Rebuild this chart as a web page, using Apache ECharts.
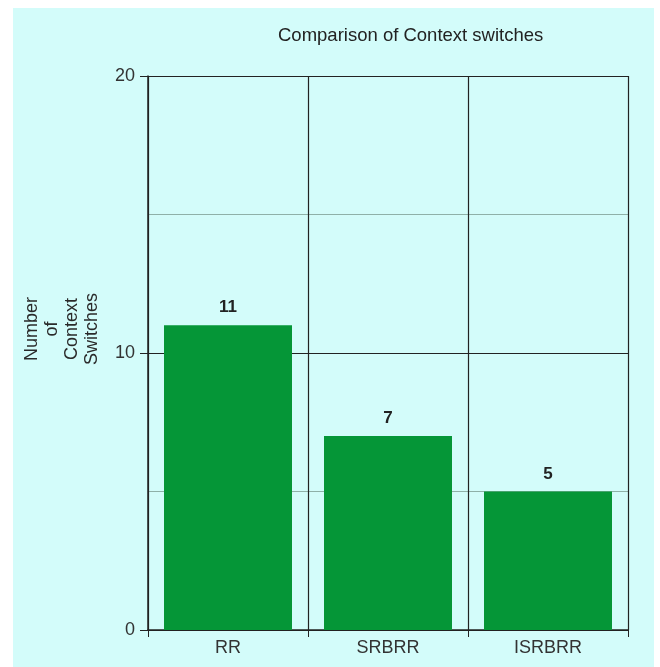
<!DOCTYPE html>
<html>
<head>
<meta charset="utf-8">
<script src="https://cdn.jsdelivr.net/npm/echarts@6/dist/echarts.min.js"></script>
<style>
  html, body { margin: 0; padding: 0; background: #ffffff; }
  #wrap { position: relative; width: 660px; height: 667px; background: #ffffff; }
  #chart { position: absolute; left: 13px; top: 8px; width: 641px; height: 659px; }
</style>
</head>
<body>
<div id="wrap"><div id="chart"></div></div>
<script>
// Scheduling algorithms compared and their context-switch counts
const categories = ['RR', 'SRBRR', 'ISRBRR'];
const contextSwitches = [11, 7, 5];
const yTickValues = [0, 10, 20];

const chart = echarts.init(document.getElementById('chart'), null, { renderer: 'canvas' });

const font = 'Arial, "Liberation Sans", Helvetica, sans-serif';

chart.setOption({
  backgroundColor: '#d3fcfa',
  animation: false,
  title: {
    text: 'Comparison of Context switches',
    left: 260,
    top: 13,
    textStyle: { fontFamily: font, fontSize: 18.5, fontWeight: 'normal', color: '#222' }
  },
  graphic: [{
    type: 'text',
    x: 49,
    y: 321,
    rotation: Math.PI / 2,
    style: {
      text: 'Number\nof\nContext\nSwitches',
      font: '18px ' + font,
      fill: '#2a2a2a',
      align: 'center',
      verticalAlign: 'middle',
      lineHeight: 20
    }
  }],
  grid: { left: 135, top: 68, width: 480, height: 554 },
  xAxis: {
    type: 'category',
    data: categories,
    axisLine: { lineStyle: { color: '#222', width: 1.5 } },
    axisTick: { show: true, length: 7, lineStyle: { color: '#222' } },
    axisLabel: { fontFamily: font, fontSize: 18, color: '#333', margin: 9 },
    splitLine: { show: true, lineStyle: { color: '#222', width: 1.2 } }
  },
  yAxis: {
    type: 'value',
    min: yTickValues[0],
    max: yTickValues[yTickValues.length - 1],
    interval: 10,
    axisLine: { show: true, lineStyle: { color: '#222', width: 1.5 } },
    axisTick: { show: true, length: 8, lineStyle: { color: '#222' } },
    axisLabel: { fontFamily: font, fontSize: 18, color: '#333', margin: 13 },
    splitLine: { show: true, lineStyle: { color: '#222', width: 1.2 } },
    minorTick: { show: false, splitNumber: 2 },
    minorSplitLine: { show: true, lineStyle: { color: '#8fb0a8', width: 1 } }
  },
  series: [{
    type: 'bar',
    data: contextSwitches,
    barWidth: '80%',
    itemStyle: { color: '#059637' },
    label: {
      show: true,
      position: 'top',
      distance: 9,
      fontFamily: font,
      fontSize: 17,
      fontWeight: 'bold',
      color: '#222'
    }
  }]
});
</script>
</body>
</html>
